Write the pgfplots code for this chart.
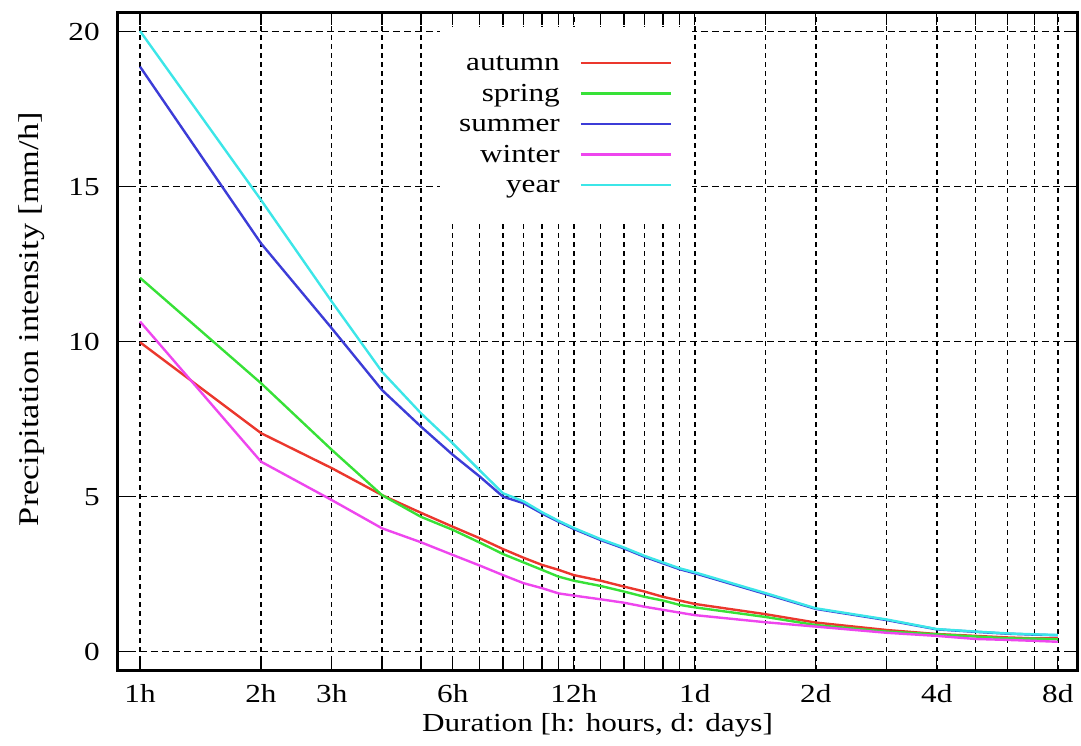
\documentclass[border=0pt]{standalone}
\usepackage{fontspec}
\setmainfont{Liberation Serif}[FakeStretch=1.2]
\usepackage{pgfplots}
\usepackage{pgfplotstable}
\pgfplotsset{compat=1.18}
\definecolor{cAut}{RGB}{235,55,45}
\definecolor{cSpr}{RGB}{55,225,55}
\definecolor{cSum}{RGB}{60,60,215}
\definecolor{cWin}{RGB}{238,70,238}
\definecolor{cYea}{RGB}{60,230,232}

\pgfplotstableread{
x autumn spring summer winter year
1 9.98 12.06 18.87 10.65 20.02
2 7.05 8.66 13.17 6.13 14.57
3 5.92 6.51 10.43 4.89 11.29
4 5.05 5.05 8.44 3.98 9.03
5 4.48 4.35 7.26 3.53 7.69
6 4.03 3.93 6.35 3.12 6.72
7 3.66 3.52 5.65 2.78 5.85
8 3.31 3.15 5.00 2.47 5.11
9 3.03 2.88 4.79 2.21 4.85
10 2.80 2.64 4.46 2.05 4.50
11 2.64 2.42 4.19 1.88 4.22
12 2.47 2.29 3.96 1.81 3.99
14 2.29 2.12 3.60 1.69 3.63
16 2.10 1.94 3.33 1.58 3.36
18 1.94 1.77 3.06 1.45 3.09
20 1.77 1.65 2.85 1.35 2.88
22 1.65 1.51 2.66 1.26 2.69
24 1.54 1.43 2.53 1.18 2.56
36 1.21 1.12 1.86 0.95 1.89
48 0.94 0.86 1.38 0.81 1.40
72 0.70 0.65 1.02 0.61 1.04
96 0.57 0.56 0.72 0.51 0.73
120 0.51 0.49 0.64 0.41 0.65
144 0.46 0.43 0.58 0.38 0.59
168 0.43 0.42 0.55 0.35 0.56
192 0.43 0.40 0.53 0.32 0.54
}\data

\begin{document}
\fontsize{13bp}{15.3bp}\selectfont
\begin{tikzpicture}
\begin{axis}[
  scale only axis, width=479.5bp, height=328.5bp,
  xmode=log,
  xmin=0.8816, xmax=214.3, ymin=-0.59, ymax=20.6,
  xtick={1,2,3,4,5,6,7,8,9,10,11,12,14,16,18,20,22,24,36,48,72,96,120,144,168,192},
  xticklabels={1h,2h,3h,{},{},6h,{},{},{},{},{},12h,{},{},{},{},{},1d,{},2d,{},4d,{},{},{},8d},
  ytick={0,5,10,15,20},
  minor tick num=0,
  tick align=inside, major tick length=6bp,
  axis line style={line width=1.5bp},
  every tick/.style={black, line width=0.6bp},
  xmajorgrids, ymajorgrids,
  x grid style={black, line width=0.7bp, dash pattern=on 2.5bp off 2bp},
  y grid style={black, line width=0.7bp, dash pattern=on 3.5bp off 2bp},
  /pgf/number format/assume math mode=true,
  xticklabel style={inner sep=0pt, anchor=base, yshift=-16.2bp},
  yticklabel style={inner sep=0pt, anchor=east, xshift=-9bp},
  xlabel={Duration [h: hours, d: days]},
  ylabel={Precipitation intensity [mm/h]},
  xlabel style={at={(axis description cs:0.5,0)}, anchor=base, yshift=-30.5bp, inner sep=0pt},
  ylabel style={at={(axis description cs:-0.0897,0.534)}, anchor=center, inner sep=0pt,
    font=\fontsize{14.3bp}{16bp}\selectfont},
  legend style={at={(axis description cs:0.5985,0.980)}, anchor=north east,
    fill=white, draw=none, inner xsep=9.7bp, inner ysep=10.5bp,
    column sep=10bp, row sep=0pt,
    nodes={inner sep=0pt, text height=11.5bp, text depth=3.8bp}},
  legend cell align=right, legend plot pos=right,
  legend image code/.code={\draw[#1] (0bp,0bp) -- (45bp,0bp);},
  every axis plot/.append style={line width=1.2bp},
]
\addplot[cAut] table[x=x, y=autumn] {\data};
\addlegendentry{autumn}
\addplot[cSpr] table[x=x, y=spring] {\data};
\addlegendentry{spring}
\addplot[cSum] table[x=x, y=summer] {\data};
\addlegendentry{summer}
\addplot[cWin] table[x=x, y=winter] {\data};
\addlegendentry{winter}
\addplot[cYea] table[x=x, y=year] {\data};
\addlegendentry{year}
\coordinate (sw) at (rel axis cs:0,0);
\coordinate (ne) at (rel axis cs:1,1);
\end{axis}
\pgfresetboundingbox
\path ([shift={(-59bp,-38bp)}]sw) rectangle ([shift={(2bp,6.5bp)}]ne);
\end{tikzpicture}
\end{document}
